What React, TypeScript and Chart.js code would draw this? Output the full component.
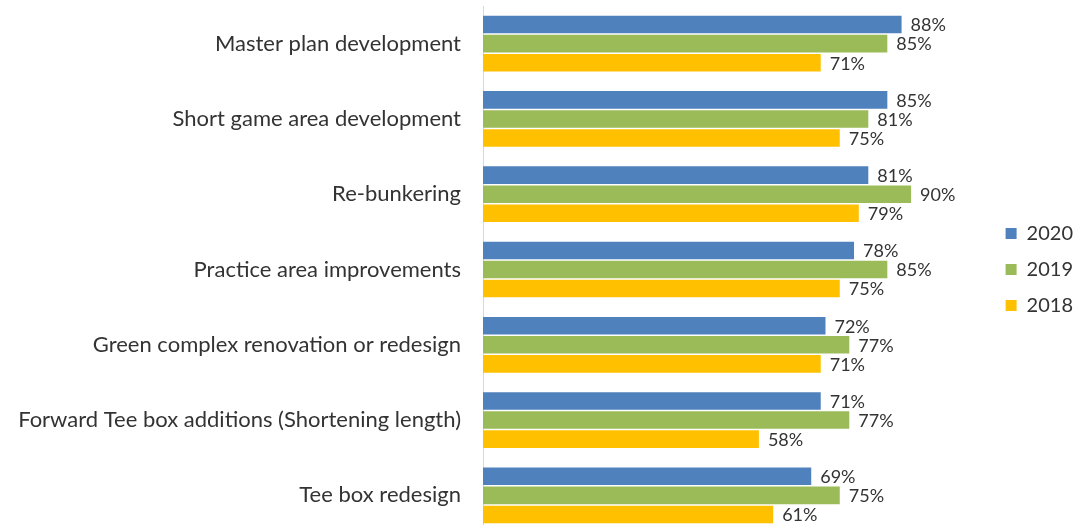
import React, { useEffect, useRef } from "react";
import { Chart, registerables } from "chart.js";

Chart.register(...registerables);

const categories = [
  "Master plan development",
  "Short game area development",
  "Re-bunkering",
  "Practice area improvements",
  "Green complex renovation or redesign",
  "Forward Tee box additions (Shortening length)",
  "Tee box redesign",
];
const series2020 = [88, 85, 81, 78, 72, 71, 69];
const series2019 = [85, 81, 90, 85, 77, 77, 75];
const series2018 = [71, 75, 79, 75, 71, 58, 61];
const seriesNames = ["2020", "2019", "2018"];
const seriesColors = ["#4F81BD", "#9BBB59", "#FFC000"];

const FONT = "Lato, 'Noto Sans', sans-serif";

const valueLabels = {
  id: "valueLabels",
  afterDatasetsDraw(chart: any) {
    const ctx = chart.ctx;
    ctx.save();
    ctx.font = `18px ${FONT}`;
    ctx.fillStyle = "#333333";
    ctx.textAlign = "left";
    ctx.textBaseline = "middle";
    chart.data.datasets.forEach((ds: any, i: number) => {
      const meta = chart.getDatasetMeta(i);
      meta.data.forEach((bar: any, j: number) => {
        ctx.fillText(`${ds.data[j]}%`, bar.x + 9, bar.y + 1);
      });
    });
    ctx.restore();
  },
};

export default function App() {
  const ref = useRef<HTMLCanvasElement>(null);
  useEffect(() => {
    if (!ref.current) return;
    const chart = new Chart(ref.current, {
      type: "bar",
      data: {
        labels: categories,
        datasets: [series2020, series2019, series2018].map((d, i) => ({
          label: seriesNames[i],
          data: d,
          backgroundColor: seriesColors[i],
          borderWidth: 0,
          categoryPercentage: 0.76,
          barPercentage: 0.92,
        })),
      },
      options: {
        indexAxis: "y",
        animation: false,
        responsive: false,
        maintainAspectRatio: false,
        layout: { padding: { top: 6, bottom: 7, left: 0, right: 1 } },
        scales: {
          x: {
            display: false,
            min: 0,
            max: 106.5,
          },
          y: {
            grid: { display: false, drawTicks: false },
            border: { display: true, color: "#D9D9D9", width: 1 },
            ticks: {
              padding: 22,
              color: "#333333",
              font: { family: FONT, size: 22 },
            },
            afterFit: (scale: any) => {
              scale.width = 483;
              scale.paddingTop = 0;
              scale.paddingBottom = 0;
            },
          },
        },
        plugins: {
          legend: {
            position: "right",
            align: "center",
            labels: {
              boxWidth: 11,
              boxHeight: 11,
              padding: 16,
              color: "#333333",
              font: { family: FONT, size: 20 },
            },
          },
          tooltip: { enabled: false },
        },
      },
      plugins: [valueLabels],
    });
    return () => chart.destroy();
  }, []);
  return (
    <div
      style={{
        position: "fixed",
        left: 0,
        top: 0,
        width: 1084,
        height: 525,
        overflow: "hidden",
        background: "#ffffff",
      }}
    >
      <canvas ref={ref} width={1084} height={540} style={{ display: "block" }} />
    </div>
  );
}
